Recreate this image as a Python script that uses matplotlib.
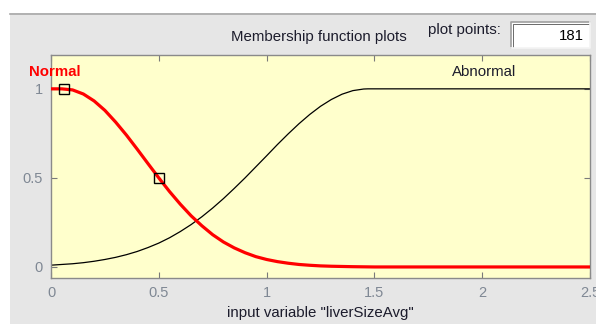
import matplotlib
matplotlib.use("Agg")
import matplotlib.pyplot as plt
from matplotlib.patches import Rectangle
from matplotlib.lines import Line2D

plt.rcParams['font.family'] = ['Liberation Sans', 'DejaVu Sans']

# membership curves for input "liverSizeAvg"
x_normal = [0.00, 0.05, 0.10, 0.15, 0.20, 0.25, 0.30, 0.35, 0.40, 0.45, 0.50,
            0.55, 0.60, 0.65, 0.70, 0.75, 0.80, 0.85, 0.90, 0.95, 1.00, 1.05,
            1.10, 1.15, 1.20, 1.25, 1.30, 1.40, 1.50, 2.50]
y_normal = [1.000, 1.000, 0.994, 0.971, 0.932, 0.879, 0.813, 0.740, 0.661, 0.580, 0.500,
            0.423, 0.352, 0.287, 0.231, 0.181, 0.140, 0.107, 0.080, 0.058, 0.042, 0.030,
            0.021, 0.014, 0.0095, 0.006, 0.004, 0.0015, 0.0, 0.0]

x_abnormal = [0.00, 0.05, 0.10, 0.15, 0.20, 0.25, 0.30, 0.35, 0.40, 0.45, 0.50,
              0.55, 0.60, 0.65, 0.70, 0.75, 0.80, 0.85, 0.90, 0.95, 1.00, 1.05,
              1.10, 1.15, 1.20, 1.25, 1.30, 1.35, 1.40, 1.45, 1.47, 2.50]
y_abnormal = [0.010, 0.014, 0.018, 0.024, 0.032, 0.042, 0.054, 0.069, 0.087, 0.109, 0.134,
              0.164, 0.199, 0.238, 0.282, 0.331, 0.384, 0.441, 0.500, 0.562, 0.624, 0.687,
              0.747, 0.804, 0.856, 0.902, 0.940, 0.970, 0.990, 0.999, 1.000, 1.000]

# handles of the selected function
handle_x = [0.06, 0.5]
handle_y = [1.0, 0.5]

x_ticks = [0, 0.5, 1, 1.5, 2, 2.5]
x_tick_labels = ['0', '0.5', '1', '1.5', '2', '2.5']
y_ticks = [0, 0.5, 1]
y_tick_labels = ['0', '0.5', '1']

W, H = 596, 324
fig = plt.figure(figsize=(W / 100, H / 100), dpi=100, facecolor='white')

# window panel
bg = fig.add_axes([0, 0, 1, 1], zorder=-10)
bg.set_xlim(0, W)
bg.set_ylim(H, 0)
bg.axis('off')
bg.add_patch(Rectangle((10, 13), W - 10, H - 13, facecolor='#e6e6e6', edgecolor='none'))
bg.add_line(Line2D([10, W], [13.5, 13.5], color='#a8a8a8', lw=1.2))

text_col = '#1c1c2c'
bg.text(319, 37, 'Membership function plots', fontsize=10.8, color=text_col,
        ha='center', va='center')
bg.text(464, 30, 'plot points:', fontsize=10.8, color=text_col, ha='center', va='center')

# edit box
bg.add_patch(Rectangle((511, 22), 79, 26, facecolor='white', edgecolor='none'))
bg.add_line(Line2D([511, 511, 590], [48, 22, 22], color='#a0a0a0', lw=1.2))
bg.add_line(Line2D([512.5, 512.5, 589], [47, 23.5, 23.5], color='#6a6a6a', lw=0.7))
bg.add_line(Line2D([511, 590, 590], [48, 48, 22], color='#f4f4f4', lw=1.2))
bg.text(584, 35.5, '181', fontsize=10.8, color='black', ha='right', va='center')

ax = fig.add_axes([51 / W, 1 - 278 / H, (590 - 51) / W, (278 - 55) / H])
ax.set_facecolor('#ffffcc')
ax.plot(x_abnormal, y_abnormal, color='black', lw=0.9, zorder=2)
ax.plot(x_normal, y_normal, color='#ff0000', lw=2.3, zorder=3)
ax.plot(handle_x, handle_y, ls='none', marker='s', ms=6.5, mfc='none', mec='black',
        mew=1.0, zorder=4)

ax.set_xlim(0, 2.5)
ax.set_ylim(-0.062, 1.19)
ax.set_xticks(x_ticks)
ax.set_xticklabels(x_tick_labels)
ax.set_yticks(y_ticks)
ax.set_yticklabels(y_tick_labels)
tick_col = '#7f8894'
ax.tick_params(direction='in', length=4, width=0.8, color='#7a7a7a', labelcolor=tick_col,
               labelsize=10.5, top=True, right=True, pad=6)
for s in ax.spines.values():
    s.set_color('#8a8a8a')
    s.set_linewidth(1.0)

ax.set_xlabel('input variable "liverSizeAvg"', fontsize=10.8, color=text_col, labelpad=4)

ax.text(0.02, 1.095, 'Normal', fontsize=10.8, fontweight='bold', color='#ff0000',
        ha='center', va='center', clip_on=False)
ax.text(2.01, 1.095, 'Abnormal', fontsize=10.8, color=text_col, ha='center', va='center')

fig.savefig('out.png', dpi=100, facecolor='white')
